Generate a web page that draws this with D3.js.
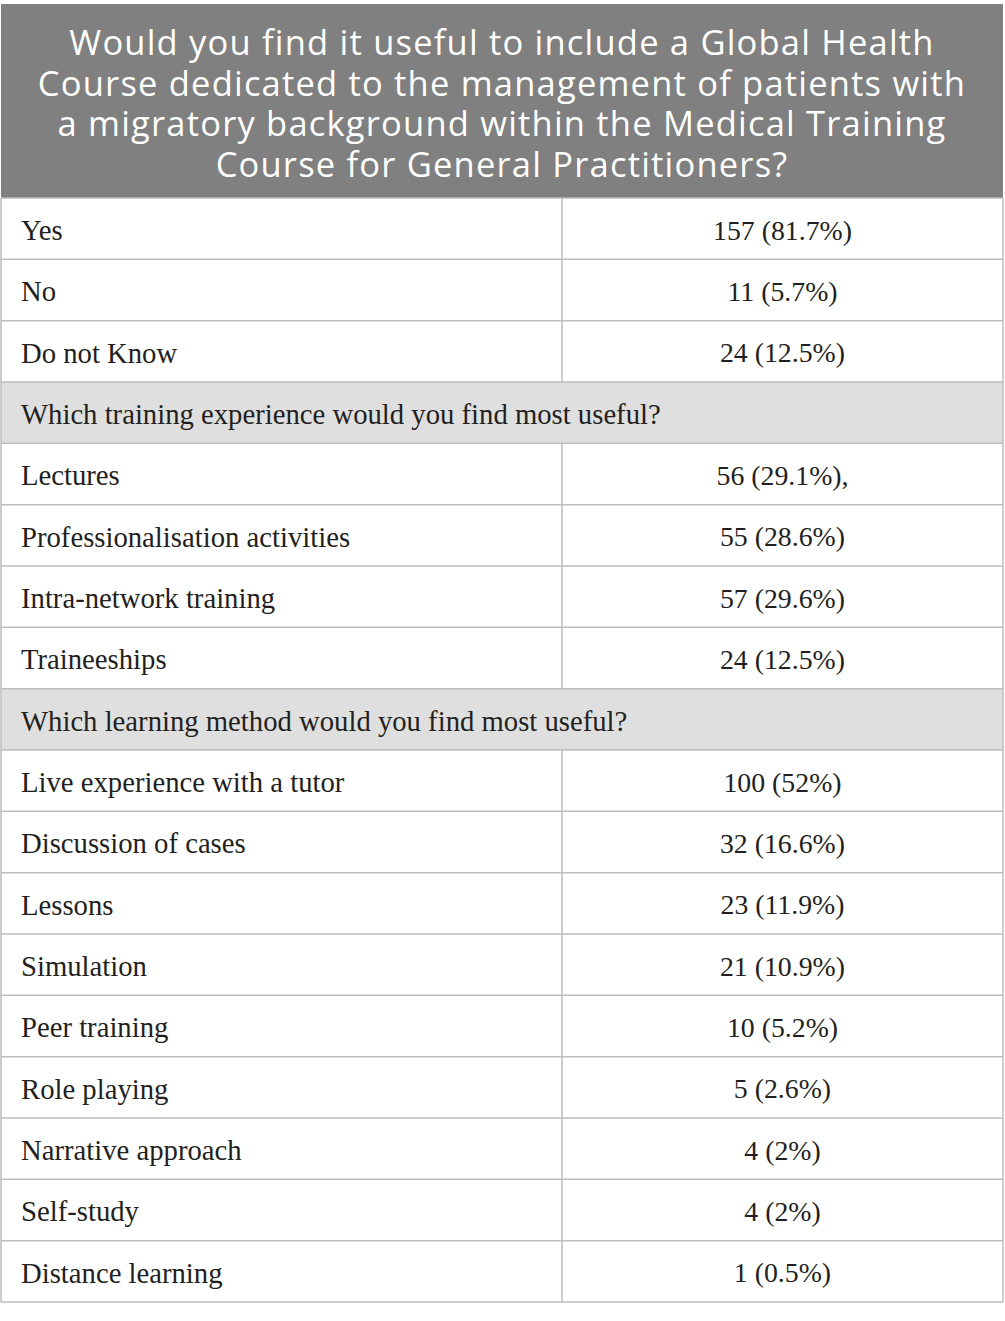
<!DOCTYPE html>
<html>
<head>
<meta charset="utf-8">
<script src="https://cdn.jsdelivr.net/npm/d3@7"></script>
<style>
  html, body { margin: 0; padding: 0; background: #fff; }
  svg { display: block; }
</style>
</head>
<body>
<div id="chart"></div>
<script>
// Table content
const titleLines = [
  'Would you find it useful to include a Global Health',
  'Course dedicated to the management of patients with',
  'a migratory background within the Medical Training',
  'Course for General Practitioners?'
]

const usefulLabels = ['Yes', 'No', 'Do not Know']
const usefulValues = ['157 (81.7%)', '11 (5.7%)', '24 (12.5%)']

const trainingTitle = 'Which training experience would you find most useful?'
const trainingLabels = ['Lectures', 'Professionalisation activities', 'Intra-network training', 'Traineeships']
const trainingValues = ['56 (29.1%),', '55 (28.6%)', '57 (29.6%)', '24 (12.5%)']

const methodTitle = 'Which learning method would you find most useful?'
const methodLabels = ['Live experience with a tutor', 'Discussion of cases', 'Lessons', 'Simulation',
  'Peer training', 'Role playing', 'Narrative approach', 'Self-study', 'Distance learning']
const methodValues = ['100 (52%)', '32 (16.6%)', '23 (11.9%)', '21 (10.9%)', '10 (5.2%)',
  '5 (2.6%)', '4 (2%)', '4 (2%)', '1 (0.5%)']

// Flatten into rows
const rows = []
usefulLabels.forEach((l, i) => rows.push({ type: 'item', label: l, value: usefulValues[i] }))
rows.push({ type: 'section', label: trainingTitle })
trainingLabels.forEach((l, i) => rows.push({ type: 'item', label: l, value: trainingValues[i] }))
rows.push({ type: 'section', label: methodTitle })
methodLabels.forEach((l, i) => rows.push({ type: 'item', label: l, value: methodValues[i] }))

const width = 1005, height = 1321
const left = 1, right = 1003, split = 562
const headTop = 4, headBottom = 198, tableBottom = 1302
const border = '#bdbdbd'

const svg = d3.select('#chart').append('svg')
  .attr('width', width)
  .attr('height', height)

// Header
svg.append('rect')
  .attr('x', left).attr('y', headTop)
  .attr('width', right - left).attr('height', headBottom - headTop)
  .attr('fill', '#7f807f')

const lineY = d3.scalePoint()
  .domain(d3.range(titleLines.length))
  .range([55, 177])

svg.append('g').selectAll('text')
  .data(titleLines)
  .join('text')
  .attr('x', (left + right) / 2)
  .attr('y', (d, i) => lineY(i))
  .attr('text-anchor', 'middle')
  .attr('fill', '#fff')
  .attr('font-family', '"Open Sans", sans-serif')
  .attr('font-size', 34.5)
  .attr('letter-spacing', 1.2)
  .text(d => d)

// Rows
const y = d3.scaleBand()
  .domain(d3.range(rows.length))
  .range([headBottom, tableBottom])

const g = svg.append('g')

g.selectAll('rect.row')
  .data(rows)
  .join('rect')
  .attr('class', 'row')
  .attr('x', left).attr('y', (d, i) => y(i))
  .attr('width', right - left).attr('height', y.bandwidth())
  .attr('fill', d => d.type === 'section' ? '#e0dfe0' : '#fff')

// Horizontal lines
g.selectAll('line.h')
  .data(d3.range(rows.length + 1))
  .join('line')
  .attr('class', 'h')
  .attr('x1', left).attr('x2', right)
  .attr('y1', i => i < rows.length ? y(i) : tableBottom)
  .attr('y2', i => i < rows.length ? y(i) : tableBottom)
  .attr('stroke', border).attr('stroke-width', 1.5)

// Vertical lines: outer borders
;[left, right].forEach(x => {
  g.append('line')
    .attr('x1', x).attr('x2', x)
    .attr('y1', headBottom).attr('y2', tableBottom)
    .attr('stroke', border).attr('stroke-width', 1.5)
})

// Split line only for item rows
g.selectAll('line.v')
  .data(rows.map((d, i) => ({ d, i })).filter(o => o.d.type === 'item'))
  .join('line')
  .attr('class', 'v')
  .attr('x1', split).attr('x2', split)
  .attr('y1', o => y(o.i)).attr('y2', o => y(o.i) + y.bandwidth())
  .attr('stroke', border).attr('stroke-width', 1.5)

const font = '"Liberation Serif", "Times New Roman", serif'

g.selectAll('text.label')
  .data(rows)
  .join('text')
  .attr('class', 'label')
  .attr('x', 21)
  .attr('y', (d, i) => y(i) + y.bandwidth() / 2)
  .attr('dy', '0.4em')
  .attr('fill', '#231f20')
  .attr('font-family', font)
  .attr('font-size', 28.7)
  .text(d => d.label)

g.selectAll('text.value')
  .data(rows.filter(d => d.type === 'item'))
  .join('text')
  .attr('class', 'value')
  .attr('x', (split + right) / 2)
  .attr('y', d => y(rows.indexOf(d)) + y.bandwidth() / 2)
  .attr('dy', '0.4em')
  .attr('text-anchor', 'middle')
  .attr('fill', '#231f20')
  .attr('font-family', font)
  .attr('font-size', 27.8)
  .text(d => d.value)
</script>
</body>
</html>
